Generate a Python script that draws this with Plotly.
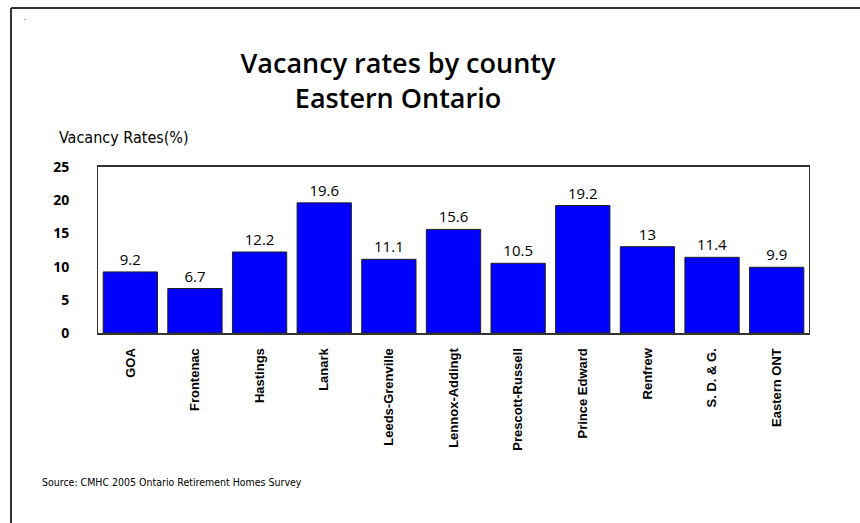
import plotly.graph_objects as go

categories = ["GOA", "Frontenac", "Hastings", "Lanark", "Leeds-Grenville", "Lennox-Addingt",
              "Prescott-Russell", "Prince Edward", "Renfrew", "S. D. & G.", "Eastern ONT"]
values = [9.2, 6.7, 12.2, 19.6, 11.1, 15.6, 10.5, 19.2, 13, 11.4, 9.9]
y_ticks = [0, 5, 10, 15, 20, 25]

NARROW = "DejaVu Sans Condensed, Roboto, sans-serif"

fig = go.Figure(go.Bar(
    x=categories, y=values,
    text=[str(v) for v in values], textposition="outside",
    textfont=dict(family="Open Sans", size=15, color="black"),
    marker=dict(color="#0000FF", line=dict(color="#222222", width=1)),
    cliponaxis=False,
))

L, R, T, B = 98, 809, 167, 333
W, H = R - L, B - T
def px(x): return (x - L) / W
def py(y): return (B - y) / H

fig.update_layout(
    width=860, height=523,
    margin=dict(l=L, r=860 - R, t=T, b=523 - B),
    paper_bgcolor="white", plot_bgcolor="white",
    bargap=0.16, showlegend=False,
    title=dict(text="Vacancy rates by county<br>Eastern Ontario",
               x=398 / 860, xanchor="center", y=1 - 73 / 523, yanchor="middle",
               font=dict(family="Open Sans", size=27, color="black", weight=600)),
    xaxis=dict(tickangle=-90, tickfont=dict(family="Liberation Sans", size=13, color="black", weight="bold"),
               ticklabelstandoff=8, showline=True, linecolor="#333", linewidth=2,
               mirror=True, ticks=""),
    yaxis=dict(range=[0, 25], tickvals=y_ticks, showgrid=False, zeroline=False,
               tickfont=dict(family="Open Sans", size=14, color="black", weight="bold"),
               ticklabelstandoff=25, showline=True, linecolor="#333", linewidth=1,
               mirror=True, ticks=""),
    annotations=[
        dict(text="Vacancy Rates(%)", xref="paper", yref="paper", x=px(57), y=py(137),
             xanchor="left", yanchor="middle", showarrow=False,
             font=dict(family=NARROW, size=16, color="black")),
        dict(text="Source: CMHC 2005 Ontario Retirement Homes Survey", xref="paper", yref="paper",
             x=px(40), y=py(482), xanchor="left", yanchor="middle", showarrow=False,
             font=dict(family=NARROW, size=10.5, color="black")),
        dict(text=".", xref="paper", yref="paper", x=px(22), y=py(17),
             xanchor="left", yanchor="middle", showarrow=False,
             font=dict(family="Liberation Sans", size=8, color="black")),
    ],
    shapes=[
        dict(type="line", xref="paper", yref="paper", x0=px(11), x1=px(11), y0=py(8), y1=py(530),
             line=dict(color="#333", width=2)),
        dict(type="line", xref="paper", yref="paper", x0=px(11), x1=px(870), y0=py(8), y1=py(8),
             line=dict(color="#333", width=2)),
    ],
)

fig.write_html("out.html")
